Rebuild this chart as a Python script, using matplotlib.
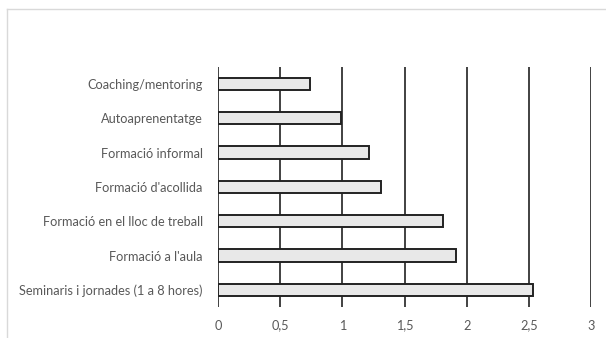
import matplotlib.pyplot as plt
from matplotlib.lines import Line2D

# categories listed top to bottom
categories = ['Coaching/mentoring', 'Autoaprenentatge', 'Formació informal',
              "Formació d'acollida", 'Formació en el lloc de treball',
              "Formació a l'aula", 'Seminaris i jornades (1 a 8 hores)']
values = [0.74, 0.99, 1.21, 1.31, 1.81, 1.91, 2.53]
xticks = [0, 0.5, 1, 1.5, 2, 2.5, 3]
xtick_labels = ['0', '0,5', '1', '1,5', '2', '2,5', '3']

plt.rcParams['font.family'] = ['Lato', 'DejaVu Sans']

fig = plt.figure(figsize=(6.06, 3.38), dpi=100)
ax = fig.add_axes([0.3597, 0.0917, 0.6163, 0.711])

pos = list(range(len(categories)))
ax.barh(pos, values, height=0.36, color='#e8e8e8', edgecolor='#222222',
        linewidth=1.4, zorder=3)
ax.set_ylim(len(categories) - 0.5, -0.5)
ax.set_xlim(0, 3)

ax.set_yticks(pos)
ax.set_yticklabels(categories)
ax.set_xticks(xticks)
ax.set_xticklabels(xtick_labels)
ax.tick_params(axis='both', length=0, labelsize=9.2, colors='#595959')
ax.tick_params(axis='y', pad=11)
ax.tick_params(axis='x', pad=9)

ax.grid(axis='x', color='#333333', linewidth=1.3, zorder=1)
for s in ax.spines.values():
    s.set_visible(False)

# light frame round the chart area
fig.add_artist(Line2D([7 / 606, 7 / 606], [0, 1 - 9 / 338],
                      transform=fig.transFigure, color='#d9d9d9', linewidth=1))
fig.add_artist(Line2D([7 / 606, 1], [1 - 9 / 338, 1 - 9 / 338],
                      transform=fig.transFigure, color='#d9d9d9', linewidth=1))

fig.savefig('out.png', dpi=100)
